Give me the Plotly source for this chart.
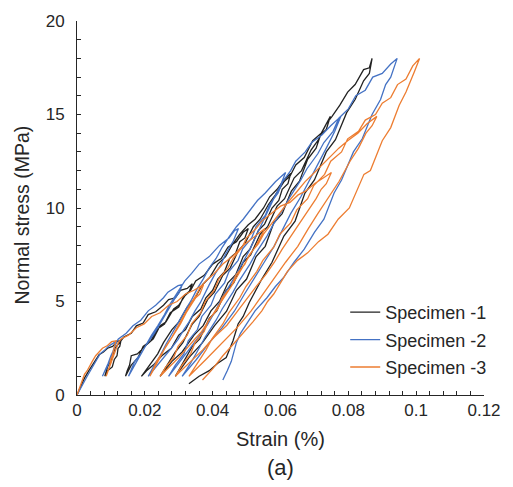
import plotly.graph_objects as go

# ---- data: (strain %, normal stress MPa), per specimen ----
names = ["Specimen -1", "Specimen -2", "Specimen -3"]
colors = ["#222222", "#4472C4", "#ED7D31"]

s1_points = [
    (0, 0), (0.0012, 0.5), (0.0022, 0.9), (0.0035, 1.3), (0.0042, 1.5), (0.0055, 1.8), (0.0065, 2.15), (0.0078, 2.3), (0.0090, 2.5), (0.0105, 2.6), (0.0118, 2.85), (0.0130, 2.95),
    (0.0126, 2.6), (0.0121, 2.5), (0.0118, 2.1), (0.0110, 1.9), (0.0104, 1.5), (0.0090, 1.3), (0.0082, 1.0),
    (0.0090, 1.5), (0.0102, 1.9), (0.0112, 2.5), (0.0125, 2.8), (0.0138, 3.1), (0.0160, 3.3), (0.0175, 3.7), (0.0195, 3.85), (0.0210, 4.3), (0.0232, 4.45), (0.0255, 4.8), (0.0270, 5.1), (0.0290, 5.2), (0.0305, 5.6), (0.0325, 5.7), (0.0340, 5.95),
    (0.0330, 5.5), (0.0318, 5.3), (0.0300, 4.8), (0.0285, 4.6), (0.0262, 3.9), (0.0245, 3.7), (0.0225, 3.0), (0.0200, 2.6), (0.0178, 2.2), (0.0160, 2.1), (0.0155, 1.6), (0.0148, 1.3), (0.0143, 1.0),
    (0.0160, 1.6), (0.0180, 2.0), (0.0195, 2.6), (0.0218, 2.9), (0.0235, 3.5), (0.0258, 3.8), (0.0275, 4.4), (0.0300, 4.7), (0.0315, 5.3), (0.0335, 5.6), (0.0350, 6.1), (0.0375, 6.4), (0.0400, 7.0), (0.0425, 7.3), (0.0445, 7.9), (0.0470, 8.2), (0.0490, 8.7), (0.0505, 8.9),
    (0.0495, 8.4), (0.0480, 8.2), (0.0468, 7.6), (0.0450, 7.3), (0.0435, 6.6), (0.0415, 6.2), (0.0400, 5.6), (0.0380, 5.2), (0.0365, 4.6), (0.0340, 4.2), (0.0320, 3.5), (0.0300, 3.2), (0.0278, 2.5), (0.0250, 2.1), (0.0225, 1.6), (0.0205, 1.3), (0.0190, 1.0),
    (0.0215, 1.6), (0.0238, 2.2), (0.0255, 2.8), (0.0280, 3.5), (0.0300, 3.9), (0.0325, 4.7), (0.0345, 5.1), (0.0370, 5.9), (0.0392, 6.3), (0.0415, 7.0), (0.0438, 7.4), (0.0460, 8.1), (0.0480, 8.6), (0.0505, 9.1), (0.0525, 9.4), (0.0550, 10.0), (0.0568, 10.6), (0.0590, 11.0), (0.0610, 11.5), (0.0630, 11.85),
    (0.0622, 11.3), (0.0605, 11.0), (0.0595, 10.4), (0.0575, 10.0), (0.0553, 9.14), (0.0535, 8.8), (0.0510, 7.8), (0.0490, 7.4), (0.0468, 6.43), (0.0445, 6.0), (0.0420, 5.0), (0.0395, 4.5), (0.0372, 3.71), (0.0345, 3.2), (0.0310, 2.3), (0.0280, 1.8), (0.0245, 1.0),
    (0.0265, 1.6), (0.0290, 2.3), (0.0312, 2.8), (0.0340, 3.8), (0.0360, 4.2), (0.0385, 5.1), (0.0405, 5.5), (0.0430, 6.4), (0.0452, 6.8), (0.0475, 7.7), (0.0495, 8.1), (0.0520, 9.0), (0.0540, 9.4), (0.0565, 10.2), (0.0585, 10.7), (0.0610, 11.4), (0.0628, 11.7), (0.0645, 12.3), (0.0670, 12.7), (0.0695, 13.6), (0.0720, 14.0), (0.0747, 14.9),
    (0.0735, 14.2), (0.0718, 13.9), (0.0705, 13.2), (0.0680, 12.6), (0.0656, 11.43), (0.0632, 10.9), (0.0605, 9.7), (0.0580, 9.2), (0.0555, 7.95), (0.0528, 7.4), (0.0500, 6.2), (0.0470, 5.6), (0.0441, 4.48), (0.0405, 3.7), (0.0370, 2.8), (0.0330, 2.0), (0.0290, 1.0),
    (0.0315, 1.8), (0.0340, 2.6), (0.0362, 3.0), (0.0390, 4.1), (0.0412, 4.5), (0.0440, 5.6), (0.0462, 6.0), (0.0490, 7.1), (0.0512, 7.5), (0.0540, 8.6), (0.0562, 9.0), (0.0590, 10.1), (0.0612, 10.5), (0.0640, 11.6), (0.0662, 12.0), (0.0690, 13.1), (0.0710, 13.6), (0.0735, 14.5), (0.0752, 14.9), (0.0775, 15.5), (0.0798, 16.2), (0.0820, 16.6), (0.0845, 17.4), (0.0862, 17.5), (0.0870, 18.0),
    (0.0862, 17.2), (0.0845, 16.8), (0.0820, 15.8), (0.0795, 15.1), (0.0762, 13.65), (0.0735, 13.0), (0.0700, 11.5), (0.0672, 10.8), (0.0643, 9.3), (0.0610, 8.5), (0.0575, 7.1), (0.0545, 6.2), (0.0508, 4.95), (0.0490, 4.2), (0.0475, 3.8), (0.0460, 2.9), (0.0440, 2.0), (0.0415, 1.7), (0.0390, 1.3), (0.0360, 1.0), (0.0330, 0.6),
]

s2_points = [
    (0, 0), (0.0010, 0.3), (0.0018, 0.6), (0.0030, 1.0), (0.0040, 1.3), (0.0048, 1.6), (0.0060, 1.9), (0.0068, 2.2), (0.0082, 2.4), (0.0092, 2.6), (0.0105, 2.75), (0.0118, 2.9),
    (0.0112, 2.6), (0.0108, 2.45), (0.0104, 2.2), (0.0100, 2.0), (0.0094, 1.7), (0.0089, 1.5), (0.0080, 1.2), (0.0075, 1.0),
    (0.0085, 1.4), (0.0092, 1.7), (0.0100, 2.1), (0.0108, 2.4), (0.0115, 2.8), (0.0122, 3.0), (0.0145, 3.3), (0.0165, 3.7), (0.0188, 4.0), (0.0210, 4.5), (0.0232, 4.8), (0.0255, 5.2), (0.0268, 5.5), (0.0285, 5.7), (0.0298, 5.85), (0.0310, 5.9),
    (0.0302, 5.5), (0.0290, 5.2), (0.0280, 4.9), (0.0265, 4.4), (0.0245, 3.8), (0.0228, 3.3), (0.0205, 2.7), (0.0188, 2.2), (0.0170, 1.8), (0.0160, 1.4), (0.0152, 1.0),
    (0.0170, 1.6), (0.0185, 2.1), (0.0200, 2.6), (0.0220, 3.2), (0.0238, 3.7), (0.0258, 4.3), (0.0272, 4.8), (0.0290, 5.3), (0.0302, 5.7), (0.0318, 6.1), (0.0338, 6.5), (0.0360, 7.0), (0.0390, 7.4), (0.0420, 8.0), (0.0448, 8.4), (0.0465, 8.8), (0.0476, 8.9),
    (0.0468, 8.5), (0.0460, 8.2), (0.0450, 7.9), (0.0437, 7.5), (0.0423, 6.93), (0.0408, 6.5), (0.0390, 5.9), (0.0378, 5.5), (0.0364, 4.95), (0.0348, 4.5), (0.0330, 3.9), (0.0315, 3.5), (0.0298, 2.98), (0.0278, 2.5), (0.0255, 2.0), (0.0232, 1.5), (0.0210, 1.0),
    (0.0228, 1.6), (0.0245, 2.1), (0.0262, 2.7), (0.0280, 3.3), (0.0300, 3.9), (0.0318, 4.5), (0.0338, 5.1), (0.0355, 5.7), (0.0372, 6.2), (0.0390, 6.8), (0.0410, 7.3), (0.0428, 7.9), (0.0450, 8.5), (0.0470, 9.0), (0.0490, 9.4), (0.0510, 9.9), (0.0532, 10.4), (0.0555, 10.8), (0.0585, 11.4), (0.0615, 11.9),
    (0.0600, 11.2), (0.0580, 10.5), (0.0565, 9.9), (0.0546, 9.18), (0.0528, 8.5), (0.0510, 7.8), (0.0490, 7.1), (0.0470, 6.45), (0.0448, 5.8), (0.0425, 5.1), (0.0405, 4.4), (0.0384, 3.73), (0.0358, 3.1), (0.0330, 2.4), (0.0300, 1.7), (0.0270, 1.0),
    (0.0290, 1.6), (0.0315, 2.2), (0.0328, 2.9), (0.0355, 3.5), (0.0368, 4.2), (0.0395, 4.8), (0.0408, 5.4), (0.0435, 6.0), (0.0448, 6.6), (0.0475, 7.2), (0.0488, 7.8), (0.0515, 8.4), (0.0528, 9.0), (0.0555, 9.6), (0.0568, 10.2), (0.0593, 10.8), (0.0606, 11.4), (0.0630, 12.0), (0.0645, 12.5), (0.0673, 13.0), (0.0692, 13.5), (0.0722, 13.9), (0.0748, 14.4), (0.0778, 14.9),
    (0.0760, 14.1), (0.0735, 13.2), (0.0712, 12.4), (0.0684, 11.43), (0.0660, 10.6), (0.0630, 9.7), (0.0608, 8.9), (0.0581, 7.95), (0.0552, 7.1), (0.0520, 6.2), (0.0494, 5.4), (0.0464, 4.48), (0.0428, 3.6), (0.0390, 2.8), (0.0352, 1.9), (0.0310, 1.0),
    (0.0335, 1.7), (0.0360, 2.5), (0.0378, 3.1), (0.0410, 4.0), (0.0428, 4.6), (0.0460, 5.5), (0.0478, 6.1), (0.0510, 7.0), (0.0528, 7.6), (0.0560, 8.5), (0.0578, 9.1), (0.0610, 10.0), (0.0628, 10.6), (0.0660, 11.5), (0.0678, 12.1), (0.0710, 12.9), (0.0728, 13.5), (0.0755, 14.1), (0.0772, 14.8), (0.0800, 15.3), (0.0822, 16.0), (0.0850, 16.3), (0.0872, 17.0), (0.0900, 17.2), (0.0925, 17.7), (0.0944, 18.0),
    (0.0925, 17.0), (0.0910, 16.6), (0.0895, 15.8), (0.0870, 15.0), (0.0841, 13.7), (0.0815, 13.0), (0.0780, 11.5), (0.0758, 10.8), (0.0728, 9.4), (0.0700, 8.7), (0.0670, 7.8), (0.0640, 7.1), (0.0610, 6.3), (0.0585, 5.8), (0.0560, 5.2), (0.0525, 4.5), (0.0496, 3.7), (0.0482, 3.3), (0.0470, 2.8), (0.0462, 2.3), (0.0455, 1.8), (0.0443, 1.3), (0.0430, 0.8),
]

s3_points = [
    (0, 0), (0.0008, 0.4), (0.0015, 0.7), (0.0022, 1.1), (0.0030, 1.3), (0.0038, 1.6), (0.0045, 1.8), (0.0055, 2.1), (0.0065, 2.3), (0.0075, 2.5), (0.0090, 2.65), (0.0102, 2.85), (0.0115, 2.9),
    (0.0112, 2.6), (0.0108, 2.4), (0.0104, 2.1), (0.0099, 1.9), (0.0097, 1.6), (0.0093, 1.4), (0.0089, 1.2), (0.0086, 1.0),
    (0.0093, 1.4), (0.0100, 1.7), (0.0108, 2.1), (0.0115, 2.4), (0.0122, 2.8), (0.0130, 3.0), (0.0152, 3.2), (0.0175, 3.6), (0.0198, 3.8), (0.0220, 4.2), (0.0245, 4.4), (0.0270, 4.8), (0.0295, 5.0), (0.0320, 5.4), (0.0345, 5.6), (0.0373, 5.9),
    (0.0362, 5.4), (0.0350, 5.2), (0.0340, 4.9), (0.0322, 4.4), (0.0305, 3.8), (0.0288, 3.3), (0.0265, 2.7), (0.0250, 2.2), (0.0235, 1.8), (0.0225, 1.4), (0.0215, 1.0),
    (0.0230, 1.5), (0.0245, 2.0), (0.0262, 2.6), (0.0280, 3.1), (0.0298, 3.7), (0.0315, 4.2), (0.0332, 4.8), (0.0350, 5.3), (0.0362, 5.7), (0.0380, 6.1), (0.0405, 6.5), (0.0430, 7.0), (0.0458, 7.4), (0.0490, 8.0), (0.0518, 8.4), (0.0554, 8.9),
    (0.0540, 8.4), (0.0525, 7.9), (0.0510, 7.5), (0.0492, 6.93), (0.0475, 6.4), (0.0458, 5.9), (0.0440, 5.4), (0.0424, 4.95), (0.0405, 4.4), (0.0385, 3.9), (0.0368, 3.4), (0.0347, 2.98), (0.0325, 2.5), (0.0300, 2.0), (0.0272, 1.5), (0.0245, 1.0),
    (0.0262, 1.5), (0.0285, 2.0), (0.0298, 2.6), (0.0325, 3.2), (0.0338, 3.8), (0.0365, 4.4), (0.0378, 5.0), (0.0405, 5.6), (0.0418, 6.2), (0.0445, 6.8), (0.0460, 7.3), (0.0487, 7.9), (0.0500, 8.4), (0.0528, 8.9), (0.0545, 9.3), (0.0572, 9.7), (0.0600, 10.1), (0.0628, 10.3), (0.0652, 10.7), (0.0674, 10.9), (0.0700, 11.3), (0.0726, 11.6), (0.0750, 11.9),
    (0.0735, 11.3), (0.0720, 11.0), (0.0705, 10.5), (0.0683, 9.9), (0.0658, 9.18), (0.0632, 8.5), (0.0605, 7.8), (0.0582, 7.1), (0.0557, 6.45), (0.0528, 5.8), (0.0500, 5.1), (0.0470, 4.4), (0.0442, 3.73), (0.0405, 3.1), (0.0370, 2.4), (0.0330, 1.7), (0.0290, 1.0),
    (0.0310, 1.6), (0.0335, 2.2), (0.0348, 2.8), (0.0375, 3.4), (0.0388, 4.0), (0.0415, 4.6), (0.0428, 5.2), (0.0455, 5.8), (0.0468, 6.4), (0.0495, 7.0), (0.0508, 7.5), (0.0535, 8.1), (0.0550, 8.6), (0.0575, 9.2), (0.0595, 9.7), (0.0622, 10.3), (0.0645, 10.8), (0.0672, 11.4), (0.0695, 11.8), (0.0722, 12.3), (0.0745, 12.7), (0.0772, 13.2), (0.0798, 13.6), (0.0828, 14.0), (0.0855, 14.5), (0.0884, 14.9),
    (0.0870, 14.4), (0.0852, 14.0), (0.0830, 13.2), (0.0805, 12.5), (0.0773, 11.43), (0.0742, 10.6), (0.0710, 9.7), (0.0682, 8.9), (0.0651, 7.95), (0.0615, 7.1), (0.0580, 6.2), (0.0548, 5.4), (0.0513, 4.48), (0.0472, 3.6), (0.0430, 2.8), (0.0380, 1.9), (0.0330, 1.0),
    (0.0355, 1.7), (0.0380, 2.4), (0.0398, 3.0), (0.0430, 3.8), (0.0448, 4.4), (0.0480, 5.2), (0.0498, 5.8), (0.0530, 6.6), (0.0548, 7.2), (0.0580, 7.9), (0.0598, 8.6), (0.0630, 9.2), (0.0648, 9.9), (0.0680, 10.5), (0.0698, 11.2), (0.0730, 11.8), (0.0748, 12.5), (0.0780, 13.0), (0.0798, 13.7), (0.0830, 14.1), (0.0850, 14.7), (0.0880, 15.0), (0.0900, 15.6), (0.0925, 15.9), (0.0945, 16.6), (0.0970, 16.9), (0.0990, 17.6), (0.1010, 18.0),
    (0.0995, 17.3), (0.0980, 16.6), (0.0970, 16.2), (0.0950, 15.5), (0.0925, 14.3), (0.0900, 13.6), (0.0865, 12.0), (0.0846, 11.8), (0.0803, 10.0), (0.0770, 9.4), (0.0740, 8.6), (0.0712, 8.2), (0.0680, 7.6), (0.0650, 7.2), (0.0620, 6.6), (0.0600, 6.0), (0.0580, 5.4), (0.0562, 5.0), (0.0545, 4.5), (0.0518, 3.9), (0.0490, 3.3), (0.0460, 2.7), (0.0430, 2.1), (0.0400, 1.4), (0.0370, 0.8),
]

x_ticks = [0, 0.02, 0.04, 0.06, 0.08, 0.1, 0.12]
x_ticklabels = ["0", "0.02", "0.04", "0.06", "0.08", "0.1", "0.12"]
y_ticks = [0, 5, 10, 15, 20]

FONT = "Arial, Liberation Sans, sans-serif"
TXT = "#262626"

fig = go.Figure()
for i, (nm, col, pts) in enumerate(zip(names, colors, [s1_points, s2_points, s3_points])):
    xs = [p[0] for p in pts]
    ys = [p[1] for p in pts]
    fig.add_trace(go.Scatter(x=xs, y=ys, mode="lines", name=nm, legendgroup=f"g{i}",
                             line=dict(color=col, width=1.3)))

fig.update_layout(
    width=513, height=487,
    margin=dict(l=77, r=18, t=18, b=92),
    paper_bgcolor="white", plot_bgcolor="white",
    font=dict(family=FONT, color=TXT, size=17),
    showlegend=True,
    legend=dict(x=0.659, y=0.27, xanchor="left", yanchor="top",
                bgcolor="rgba(0,0,0,0)", font=dict(size=18, color=TXT),
                tracegroupgap=1, itemwidth=30),
    xaxis=dict(range=[0, 0.12], tickvals=x_ticks, ticktext=x_ticklabels,
               showgrid=False, zeroline=False, showline=True,
               linecolor="#262626", linewidth=1,
               ticks="inside", ticklen=4, tickcolor="#262626",
               minor=dict(dtick=0.004, ticks="inside", ticklen=4, tickcolor="#262626"),
               tickfont=dict(size=17, color=TXT)),
    yaxis=dict(range=[0, 20], tickvals=y_ticks,
               showgrid=False, zeroline=False, showline=True,
               linecolor="#262626", linewidth=1,
               ticks="inside", ticklen=4, tickcolor="#262626",
               minor=dict(dtick=1, ticks="inside", ticklen=4, tickcolor="#262626"),
               ticklabelstandoff=8,
               tickfont=dict(size=17, color=TXT)),
    annotations=[
        dict(text="Strain (%)", xref="paper", yref="paper", x=0.5, y=-0.117,
             xanchor="center", yanchor="middle", showarrow=False,
             font=dict(size=20, color=TXT)),
        dict(text="(a)", xref="paper", yref="paper", x=0.5, y=-0.194,
             xanchor="center", yanchor="middle", showarrow=False,
             font=dict(size=22, color=TXT)),
        dict(text="Normal stress (MPa)", xref="paper", yref="paper", x=-0.135, y=0.48,
             xanchor="center", yanchor="middle", showarrow=False, textangle=-90,
             font=dict(size=19.5, color=TXT)),
    ],
)

fig.write_html("out.html")
